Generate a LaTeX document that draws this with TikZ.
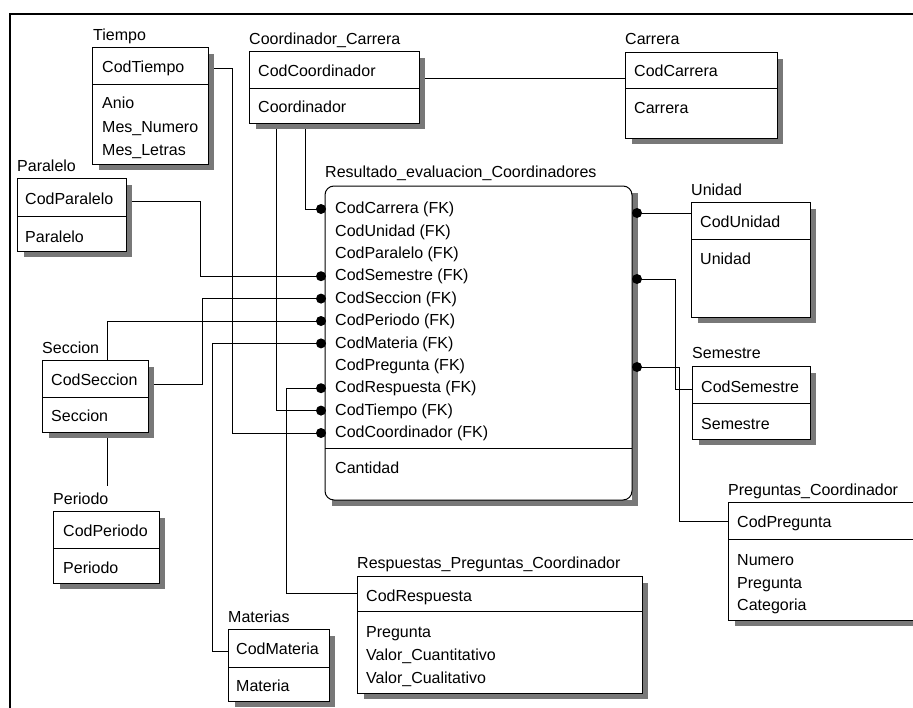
\documentclass[tikz,border=0pt]{standalone}
\usepackage{fontspec}
\setmainfont{Liberation Sans}
\definecolor{shadowgray}{RGB}{120,120,120}
\begin{document}
\begin{tikzpicture}[x=1pt,y=-1pt,
  conn/.style={line width=1pt},
  ent/.style={draw, line width=1pt, fill=white, inner sep=0pt, outer sep=0pt, anchor=north west},
  shadowfill/.style={fill=shadowgray},
  fld/.style={anchor=west, inner sep=0pt, text height=11.5pt, text depth=0pt, font=\fontsize{16}{19}\selectfont},
  fkdot/.style={circle, fill=black, inner sep=0pt, minimum size=10pt},
  divline/.style={line width=1pt},
]
\path[use as bounding box] (0,0) rectangle (913,707);
\begin{scope}
\clip (0,0) rectangle (913,707);
% frame
\draw[line width=2pt] (930,14) -- (10,14) -- (10,720);

% ---------- rows of the main entity (where the FK dots sit)
\foreach \i in {0,...,10}{ \coordinate (row\i) at (321,{209+22.4*\i}); }

% ---------- titles
\node[fld] (tTiempo) at (93,35) {Tiempo};
\node[fld] (tCC) at (249,39) {Coordinador\_Carrera};
\node[fld] (tCarrera) at (625,39) {Carrera};
\node[fld] (tParalelo) at (17,166) {Paralelo};
\node[fld] (tMain) at (325,172) {Resultado\_evaluacion\_Coordinadores};
\node[fld] (tUnidad) at (691,190) {Unidad};
\node[fld] (tSeccion) at (42,348) {Seccion};
\node[fld] (tSemestre) at (692,353) {Semestre};
\node[fld] (tPreg) at (728,490) {Preguntas\_Coordinador};
\node[fld] (tResp) at (357,563) {Respuestas\_Preguntas\_Coordinador};
\node[fld] (tMaterias) at (228,617) {Materias};

% ---------- connectors (drawn first, boxes cover them)
\coordinate (ccR) at (419,78);
\coordinate (carL) at (625,78);
\coordinate (ccA) at (276,123);
\coordinate (ccB) at (305,123);
\draw[conn] (ccR) -- (carL);
\draw[conn] (ccB) |- (row0);
\draw[conn] (ccA) |- (row9);
\draw[conn] (208,68) -- (232,68) |- (row10);
\draw[conn] (126,201) -- (200,201) |- (row3);
\draw[conn] (148,384) -- (202,384) |- (row4);
\draw[conn] (107,511) |- (row5);
\draw[conn] (228,651) -- (212,651) |- (row6);
\draw[conn] (357,593) -- (286,593) |- (row8);
\draw[conn] (637,213) -- (691,213);
\draw[conn] (637,279) -- (675,279) |- (692,389);
\draw[conn] (637,367) -- (679,367) |- (728,521);

% white label over the Periodo line
\node[fld, fill=white, inner ysep=7pt, inner xsep=0pt] (tPeriodo) at (53,499) {Periodo};

% ---------- shadows (thick gray strokes along the right and bottom sides)
\newcommand\shd[4]{%
  \draw[draw=shadowgray, line width=6pt] ({#1+#3+3},{#2+7}) -- ({#1+#3+3},{#2+#4+3}) -- ({#1+7},{#2+#4+3});
}
\shd{92}{47}{116}{117}
\shd{249}{51}{170}{72}
\shd{625}{52}{152}{86}
\shd{17}{178}{109}{73}
\shd{325}{186}{307}{314}
\shd{691}{202}{119}{115}
\shd{692}{366}{118}{73}
\shd{42}{360}{106}{72}
\shd{53}{511}{106}{72}
\shd{228}{629}{101}{72}
\shd{357}{576}{285}{117}
\shd{728}{502}{240}{118}

% ---------- boxes
\node[ent, minimum width=116pt, minimum height=117pt] (tiempo) at (92,47) {};
\draw[divline] (92,84) -- (208,84);
\node[ent, minimum width=170pt, minimum height=72pt] (cc) at (249,51) {};
\draw[divline] (249,88) -- (419,88);
\node[ent, minimum width=152pt, minimum height=86pt] (carrera) at (625,52) {};
\draw[divline] (625,88) -- (777,88);
\node[ent, minimum width=109pt, minimum height=73pt] (paralelo) at (17,178) {};
\draw[divline] (17,216) -- (126,216);
\node[ent, rounded corners=9pt, minimum width=307pt, minimum height=314pt] (main) at (325,186) {};
\draw[divline] (325,448) -- (632,448);
\node[ent, minimum width=119pt, minimum height=115pt] (unidad) at (691,202) {};
\draw[divline] (691,239) -- (810,239);
\node[ent, minimum width=118pt, minimum height=73pt] (semestre) at (692,366) {};
\draw[divline] (692,403) -- (810,403);
\node[ent, minimum width=106pt, minimum height=72pt] (seccion) at (42,360) {};
\draw[divline] (42,397) -- (148,397);
\node[ent, minimum width=106pt, minimum height=72pt] (periodo) at (53,511) {};
\draw[divline] (53,548) -- (159,548);
\node[ent, minimum width=101pt, minimum height=72pt] (materias) at (228,629) {};
\draw[divline] (228,667) -- (329,667);
\node[ent, minimum width=285pt, minimum height=117pt] (resp) at (357,576) {};
\draw[divline] (357,611) -- (642,611);
\node[ent, minimum width=240pt, minimum height=118pt] (preg) at (728,502) {};
\draw[divline] (728,539) -- (968,539);

% ---------- fields
\node[fld] (fTiempo1) at (102,67) {CodTiempo};
\node[fld] (fTiempo2) at (102,103) {Anio};
\node[fld] (fTiempo3) at (102,127) {Mes\_Numero};
\node[fld] (fTiempo4) at (102,150) {Mes\_Letras};
\node[fld] (fCC1) at (258,71) {CodCoordinador};
\node[fld] (fCC2) at (258,107) {Coordinador};
\node[fld] (fCar1) at (634,71) {CodCarrera};
\node[fld] (fCar2) at (634,108) {Carrera};
\node[fld] (fPar1) at (25,199) {CodParalelo};
\node[fld] (fPar2) at (25,237) {Paralelo};
\node[fld] (fUni1) at (700,222) {CodUnidad};
\node[fld] (fUni2) at (700,259) {Unidad};
\node[fld] (fSem1) at (701,387) {CodSemestre};
\node[fld] (fSem2) at (701,424) {Semestre};
\node[fld] (fSec1) at (51,380) {CodSeccion};
\node[fld] (fSec2) at (51,416) {Seccion};
\node[fld] (fPer1) at (63,531) {CodPeriodo};
\node[fld] (fPer2) at (63,568) {Periodo};
\node[fld] (fMat1) at (236,649) {CodMateria};
\node[fld] (fMat2) at (236,686) {Materia};
\node[fld] (fRes1) at (366,596) {CodRespuesta};
\node[fld] (fRes2) at (366,632) {Pregunta};
\node[fld] (fRes3) at (366,655) {Valor\_Cuantitativo};
\node[fld] (fRes4) at (366,678) {Valor\_Cualitativo};
\node[fld] (fPre1) at (737,522) {CodPregunta};
\node[fld] (fPre2) at (737,560) {Numero};
\node[fld] (fPre3) at (737,583) {Pregunta};
\node[fld] (fPre4) at (737,605) {Categoria};
\foreach \t [count=\i from 0] in {CodCarrera (FK),CodUnidad (FK),CodParalelo (FK),CodSemestre (FK),CodSeccion (FK),CodPeriodo (FK),CodMateria (FK),CodPregunta (FK),CodRespuesta (FK),CodTiempo (FK),CodCoordinador (FK)}{
  \node[fld] (fm\i) at (335,{208+22.4*\i}) {\t};
}
\node[fld] (fmC) at (335,468) {Cantidad};

% ---------- FK dots
\foreach \i in {0,3,4,5,6,8,9,10}{ \node[fkdot] (dL\i) at (row\i) {}; }
\node[fkdot] (dR1) at (637,213) {};
\node[fkdot] (dR2) at (637,279) {};
\node[fkdot] (dR3) at (637,367) {};
\end{scope}
\end{tikzpicture}
\end{document}
